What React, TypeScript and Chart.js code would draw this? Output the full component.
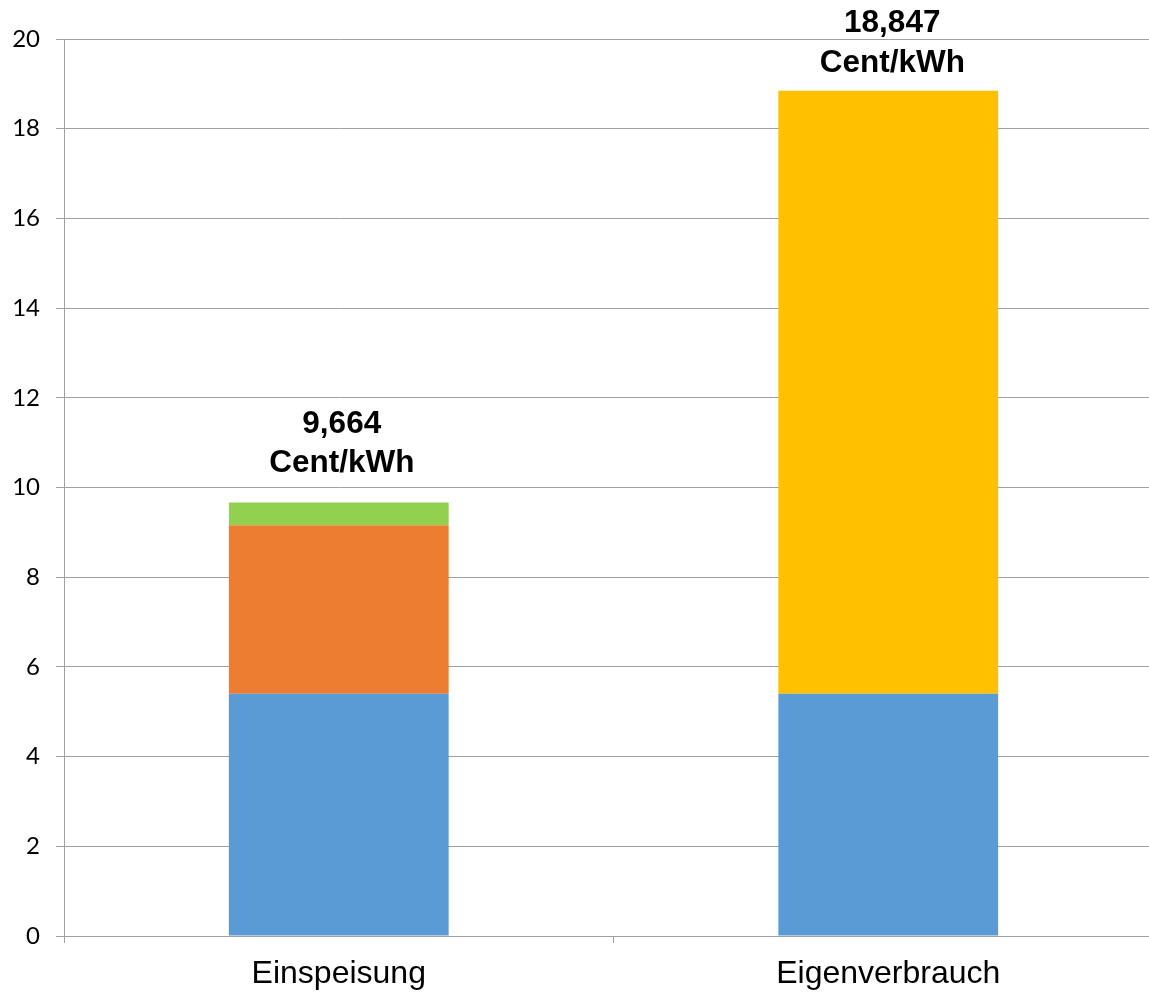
import React, { useEffect, useRef } from "react";
import { Chart, registerables } from "chart.js";

Chart.register(...registerables);

const categories = ["Einspeisung", "Eigenverbrauch"];
const baseValues = [5.4, 5.4];
const orangeValues = [3.76, 0];
const greenValues = [0.504, 0];
const yellowValues = [0, 13.447];
const unitLabel = "Cent/kWh";
const yTicks = [0, 2, 4, 6, 8, 10, 12, 14, 16, 18, 20];

const totals = categories.map(
  (_, i) => baseValues[i] + orangeValues[i] + greenValues[i] + yellowValues[i]
);

const totalLabelPlugin = {
  id: "totalLabels",
  afterDatasetsDraw(chart: any, _args: any, opts: any) {
    const { ctx } = chart;
    const x = chart.scales.x;
    const y = chart.scales.y;
    ctx.save();
    ctx.fillStyle = "#000";
    ctx.font = "bold 31.5px 'Liberation Sans', Arial, sans-serif";
    ctx.textAlign = "center";
    ctx.textBaseline = "alphabetic";
    totals.forEach((t, i) => {
      const cx = x.getPixelForValue(i) + opts.dx[i];
      const top = y.getPixelForValue(t);
      const gap = opts.gaps[i];
      const lh = opts.lineHeights[i];
      const txt = t.toLocaleString("de-DE", {
        minimumFractionDigits: 3,
        maximumFractionDigits: 3,
      });
      ctx.fillText(unitLabel, cx, top - gap);
      ctx.fillText(txt, cx, top - gap - lh);
    });
    ctx.restore();
  },
};

export default function App() {
  const ref = useRef<HTMLCanvasElement | null>(null);
  useEffect(() => {
    if (!ref.current) return;
    const grid = "#a0a0a0";
    const chart = new Chart(ref.current, {
      type: "bar",
      data: {
        labels: categories,
        datasets: [
          { label: "Basis", data: baseValues, backgroundColor: "#5B9BD5" },
          { label: "Orange", data: orangeValues, backgroundColor: "#ED7D31" },
          { label: "Grün", data: greenValues, backgroundColor: "#92D050" },
          { label: "Gelb", data: yellowValues, backgroundColor: "#FFC000" },
        ],
      },
      options: {
        responsive: false,
        animation: false,
        maintainAspectRatio: false,
        layout: { padding: { top: 39, right: 0, left: 0, bottom: 0 } },
        plugins: {
          legend: { display: false },
          tooltip: { enabled: false },
          totalLabels: { gaps: [31, 19], lineHeights: [39, 40], dx: [3, 4] },
        } as any,
        datasets: {
          bar: { categoryPercentage: 1, barPercentage: 0.4 },
        } as any,
        scales: {
          x: {
            stacked: true,
            offset: true,
            grid: {
              offset: true,
              drawOnChartArea: false,
              drawTicks: true,
              tickLength: 7,
              color: grid,
            },
            border: { color: grid, width: 1 },
            ticks: {
              color: "#000",
              padding: 12,
              font: { family: "'Liberation Sans', Arial, sans-serif", size: 32 },
            },
            afterFit(scale: any) {
              scale.height = 57;
            },
          },
          y: {
            stacked: true,
            min: 0,
            max: 20,
            afterBuildTicks(scale: any) {
              scale.ticks = yTicks.map((v) => ({ value: v }));
            },
            grid: { color: grid, tickLength: 8, lineWidth: 1 },
            border: { color: grid, width: 1 },
            ticks: {
              color: "#000",
              padding: 16,
              font: { family: "Lato, 'Open Sans', sans-serif", size: 24 },
            },
            afterFit(scale: any) {
              scale.width = 64;
            },
          },
        },
      },
      plugins: [totalLabelPlugin],
    });
    return () => chart.destroy();
  }, []);
  return (
    <div
      style={{
        position: "fixed",
        left: 0,
        top: 0,
        width: 1149,
        height: 993,
        overflow: "hidden",
        background: "#fff",
      }}
    >
      <canvas ref={ref} width={1163} height={993} style={{ display: "block" }} />
    </div>
  );
}
